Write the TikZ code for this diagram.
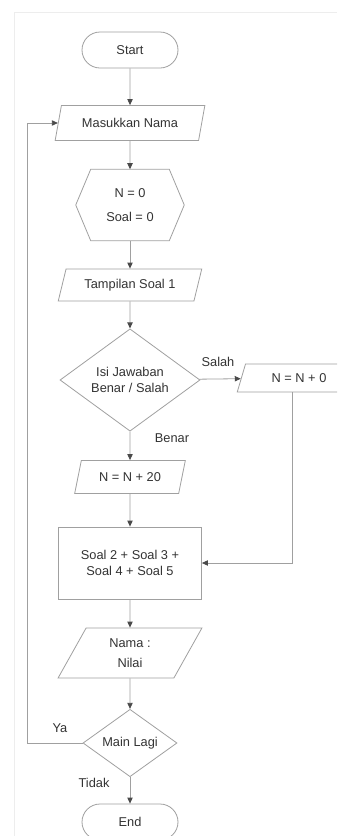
\documentclass[tikz,border=0pt]{standalone}
\usepackage{xcolor}
\usepackage{fontspec}
\setmainfont{Liberation Sans}
\usepackage{tikz}
\usetikzlibrary{positioning, arrows.meta, calc, shapes.geometric}
\definecolor{flowline}{HTML}{A0A0A0}
\definecolor{flowtip}{HTML}{4A4A4A}
\definecolor{flowtext}{HTML}{333333}
\definecolor{pageedge}{HTML}{EDEDED}

\tikzset{
  base/.style={draw=flowline, line width=0.6pt, text=flowtext, inner sep=0pt, align=center,
    font=\fontsize{9.6}{11.5}\selectfont},
  terminal/.style={base, rectangle, rounded corners=13.5pt, minimum width=72pt, minimum height=27pt},
  io/.style={base, trapezium, trapezium left angle=65, trapezium right angle=115, trapezium stretches=true},
  process/.style={base, rectangle},
  decision/.style={base, diamond},
  flow/.style={draw=flowline, line width=0.6pt, -{Triangle[length=4.5pt, width=4pt, color=flowtip]}},
  tag/.style={text=flowtext, font=\fontsize{9.6}{11.5}\selectfont, inner sep=0pt}
}

\begin{document}
\begin{tikzpicture}[x=0.75pt, y=-0.75pt]
  \useasboundingbox (0,0) rectangle (337,836);
  \clip (0,0) rectangle (337,836);
  \fill[white] (0,0) rectangle (337,836);
  \draw[pageedge] (14,836) -- (14,12) -- (337,12);

  \node[terminal] (start) at (130,50) {Start};
  \node[io, minimum width=112.5pt, minimum height=26.25pt] (masuk) at (130,123) {Masukkan Nama};
  \node[inner sep=0pt, minimum width=81pt, minimum height=53.25pt, align=center, text=flowtext,
    font=\fontsize{9.6}{11.5}\selectfont] (init) at (130,205) {N = 0\\[6pt]Soal = 0};
  \draw[draw=flowline, line width=0.6pt] (init.west) -- ([xshift=11.25pt]init.north west)
    -- ([xshift=-11.25pt]init.north east) -- (init.east) -- ([xshift=-11.25pt]init.south east)
    -- ([xshift=11.25pt]init.south west) -- cycle;
  \node[io, minimum width=108pt, minimum height=24pt] (tampil) at (130,285) {Tampilan Soal 1};
  \node[decision, minimum width=105pt, minimum height=72.75pt] (cek) at (130,380) {Isi Jawaban\\Benar / Salah};
  \node[io, minimum width=93pt, minimum height=21pt] (salah) at (299,378) {N = N + 0};
  \node[io, minimum width=83.25pt, minimum height=24.75pt] (benar) at (130,477) {N = N + 20};
  \node[process, minimum width=107.25pt, minimum height=54pt] (sisa) at (130,563) {Soal 2 + Soal 3 +\\Soal 4 + Soal 5};
  \node[io, minimum width=108pt, minimum height=37.5pt] (hasil) at (130,653) {Nama :\\[3pt]Nilai};
  \node[decision, minimum width=70.5pt, minimum height=50.25pt] (lagi) at (130,743) {Main Lagi};
  \node[terminal] (end) at (130,822) {End};

  \draw[flow] (start) -- (masuk);
  \draw[flow] (masuk) -- (init);
  \draw[flow] (init) -- (tampil);
  \draw[flow] (tampil) -- (cek);
  \draw[flow] (cek) -- (salah);
  \draw[flow] (cek) -- (benar);
  \draw[flow] ([xshift=-5]salah.south) |- (sisa.east);
  \draw[flow] (benar) -- (sisa);
  \draw[flow] (sisa) -- (hasil);
  \draw[flow] (hasil) -- (lagi);
  \draw[flow] (lagi.west) -- ++(-55,0) |- (masuk.west);
  \draw[flow] (lagi) -- (end);

  \node[tag] at (218,362) {Salah};
  \node[tag] at (172,438) {Benar};
  \node[tag] at (60,728) {Ya};
  \node[tag] at (94,783) {Tidak};
\end{tikzpicture}
\end{document}
